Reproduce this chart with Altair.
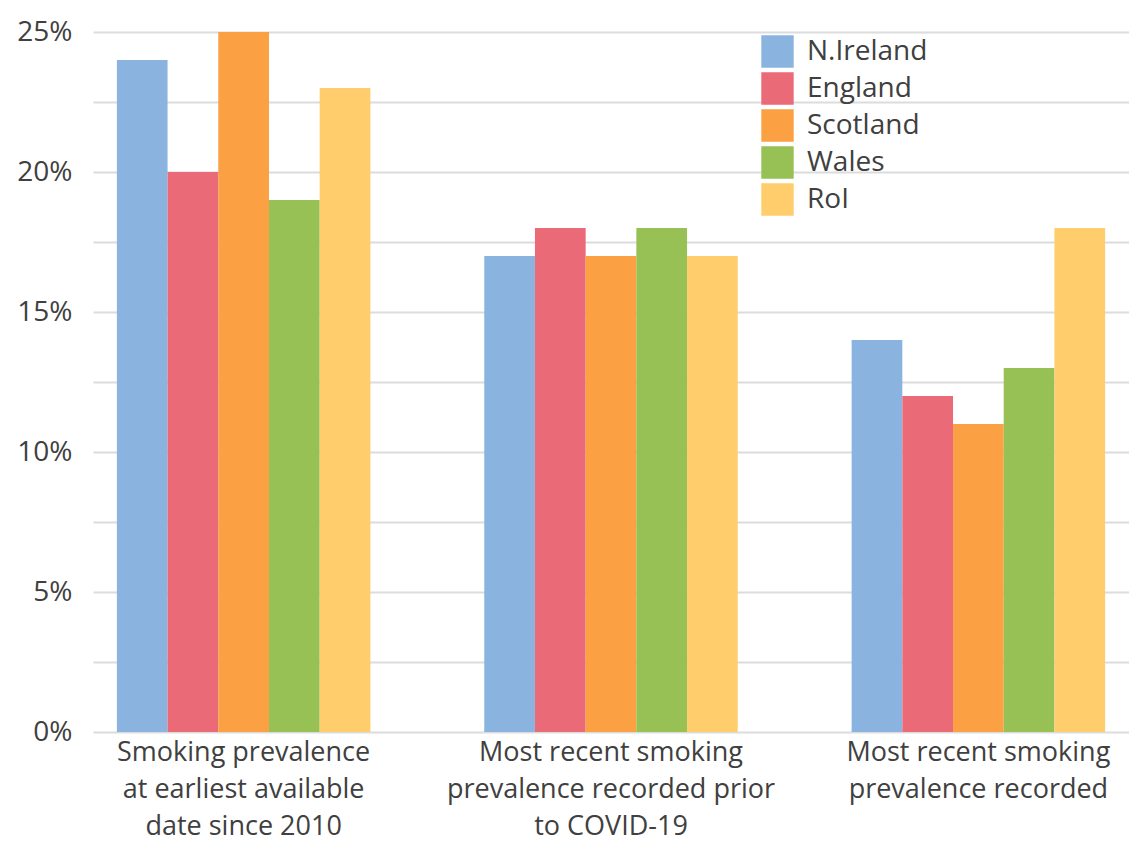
import altair as alt
import pandas as pd

categories = [
    "Smoking prevalence|at earliest available|date since 2010",
    "Most recent smoking|prevalence recorded prior|to COVID-19",
    "Most recent smoking|prevalence recorded",
]
countries = ["N.Ireland", "England", "Scotland", "Wales", "RoI"]
colors = ["#8AB4DF", "#EB6A78", "#FBA043", "#97C155", "#FFCD6B"]

earliest = [24, 20, 25, 19, 23]
pre_covid = [17, 18, 17, 18, 17]
recent = [14, 12, 11, 13, 18]

series = [earliest, pre_covid, recent]
rows = []
for cat, vals in zip(categories, series):
    for c, v in zip(countries, vals):
        rows.append({"category": cat, "country": c, "value": v})
df = pd.DataFrame(rows)

FONT = "Open Sans"
TXT = "#404040"

chart = (
    alt.Chart(df)
    .mark_bar()
    .encode(
        x=alt.X(
            "category:N",
            sort=categories,
            title=None,
            scale=alt.Scale(paddingInner=0.31, paddingOuter=0.065),
            axis=alt.Axis(
                labelAngle=0,
                labelExpr="split(datum.label, '|')",
                labelFontSize=27,
                labelLineHeight=37,
                labelPadding=7,
                labelLimit=0,
                labelColor=TXT,
                labelFont=FONT,
                ticks=False,
                domain=False,
                grid=False,
                labelBaseline="top",
            ),
        ),
        xOffset=alt.XOffset("country:N", sort=countries, scale=alt.Scale(paddingInner=0, paddingOuter=0)),
        y=alt.Y(
            "value:Q",
            title=None,
            scale=alt.Scale(domain=[0, 25], nice=False),
            axis=alt.Axis(
                values=[0, 2.5, 5, 7.5, 10, 12.5, 15, 17.5, 20, 22.5, 25],
                labelExpr="datum.value % 5 == 0 ? datum.value + '%' : ''",
                labelFontSize=28,
                labelColor=TXT,
                labelFont=FONT,
                labelPadding=21,
                ticks=False,
                domain=False,
                grid=True,
                gridColor="#dcdcdc",
                gridWidth=2,
            ),
        ),
        color=alt.Color(
            "country:N",
            sort=countries,
            scale=alt.Scale(domain=countries, range=colors),
            legend=alt.Legend(
                title=None,
                orient="none",
                legendX=668,
                legendY=3,
                symbolType="square",
                symbolSize=1050,
                symbolStrokeWidth=0,
                labelFontSize=28,
                labelFont=FONT,
                labelColor=TXT,
                labelOffset=13,
                rowPadding=4,
            ),
        ),
    )
    .properties(
        width=1036,
        height=700,
        autosize=alt.AutoSizeParams(type="none"),
        padding={"left": 85, "top": 24, "right": 0, "bottom": 119},
    )
    .configure_view(stroke=None)
)

chart.save("out.html", embed_options={"renderer": "svg", "actions": False})
